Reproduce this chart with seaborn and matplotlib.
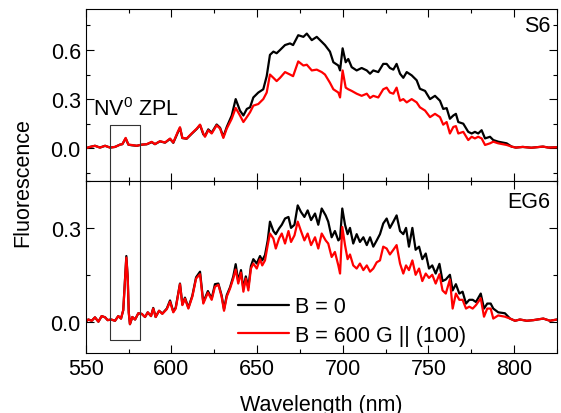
import numpy as np
import pandas as pd
import matplotlib
matplotlib.use("Agg")
import matplotlib.pyplot as plt
import seaborn as sns
from matplotlib.ticker import MultipleLocator, AutoMinorLocator

# S6 spectra (top panel)
wl_s6 = [550.0, 552.5, 555.4, 558.3, 561.3, 564.2, 567.1, 570.0, 571.4, 573.3,
         574.9, 576.8, 579.8, 582.7, 585.6, 588.5, 590.4, 593.3, 596.3, 599.2,
         601.1, 603.7, 605.0, 606.4, 608.9, 611.8, 614.8, 616.7, 618.6, 619.6,
         621.5, 623.5, 626.4, 628.4, 630.3, 632.3, 635.2, 637.5, 640.0, 642.0,
         644.0, 645.9, 647.8, 650.7, 653.6, 655.6, 657.5, 659.5, 661.4, 663.4,
         666.3, 669.2, 671.0, 674.0, 677.0, 679.0, 681.9, 684.8, 687.7, 689.6,
         692.5, 694.5, 697.4, 698.4, 699.9, 701.7, 703.2, 705.2, 708.1, 711.0,
         714.0, 715.9, 717.8, 720.7, 723.6, 725.6, 727.5, 729.5, 731.4, 733.4,
         735.3, 737.3, 740.2, 743.1, 745.0, 748.0, 750.9, 753.8, 756.7, 758.6,
         760.6, 762.5, 764.5, 766.0, 767.4, 770.3, 773.2, 775.2, 777.1, 779.0,
         781.0, 783.0, 785.9, 787.8, 790.7, 795.6, 798.5, 801.0, 805.0, 810.0,
         816.8, 820.0, 825.0]
s6_b0 = [0.000, 0.008, 0.015, 0.004, 0.015, 0.004, 0.008, 0.022, 0.025, 0.060,
         0.022, 0.018, 0.015, 0.022, 0.024, 0.037, 0.025, 0.042, 0.034, 0.057,
         0.033, 0.095, 0.125, 0.062, 0.058, 0.088, 0.118, 0.142, 0.085, 0.075,
         0.115, 0.095, 0.145, 0.125, 0.070, 0.130, 0.200, 0.300, 0.230, 0.200,
         0.240, 0.250, 0.310, 0.340, 0.360, 0.440, 0.570, 0.590, 0.580, 0.600,
         0.630, 0.640, 0.630, 0.690, 0.680, 0.700, 0.660, 0.680, 0.650, 0.630,
         0.590, 0.525, 0.505, 0.475, 0.610, 0.525, 0.545, 0.495, 0.475, 0.490,
         0.475, 0.455, 0.475, 0.465, 0.515, 0.515, 0.490, 0.480, 0.515, 0.455,
         0.430, 0.465, 0.445, 0.415, 0.363, 0.350, 0.300, 0.320, 0.290, 0.240,
         0.245, 0.180, 0.200, 0.210, 0.160, 0.150, 0.100, 0.090, 0.100, 0.090,
         0.110, 0.060, 0.070, 0.050, 0.040, 0.030, 0.010, 0.004, 0.008, 0.003,
         0.010, 0.004, 0.006]
s6_b600 = [0.000, 0.008, 0.015, 0.004, 0.015, 0.004, 0.008, 0.022, 0.025, 0.063,
           0.022, 0.020, 0.015, 0.022, 0.025, 0.039, 0.025, 0.043, 0.035, 0.059,
           0.035, 0.100, 0.128, 0.063, 0.059, 0.090, 0.120, 0.144, 0.090, 0.070,
           0.110, 0.090, 0.140, 0.120, 0.063, 0.120, 0.180, 0.246, 0.200, 0.160,
           0.190, 0.220, 0.260, 0.270, 0.300, 0.340, 0.450, 0.430, 0.410, 0.430,
           0.465, 0.450, 0.440, 0.530, 0.505, 0.510, 0.475, 0.480, 0.465, 0.450,
           0.400, 0.360, 0.340, 0.310, 0.475, 0.370, 0.360, 0.350, 0.333, 0.320,
           0.333, 0.307, 0.320, 0.310, 0.360, 0.370, 0.340, 0.333, 0.370, 0.290,
           0.300, 0.280, 0.300, 0.280, 0.250, 0.230, 0.190, 0.210, 0.190, 0.144,
           0.160, 0.090, 0.130, 0.135, 0.090, 0.100, 0.050, 0.070, 0.060, 0.070,
           0.060, 0.020, 0.030, 0.040, 0.030, 0.020, 0.010, 0.004, 0.008, 0.003,
           0.010, 0.004, 0.006]

# EG6 spectra (bottom panel)
wl_eg6 = [550.0, 551.5, 553.5, 555.4, 557.4, 559.3, 561.3, 562.8, 564.8, 567.1,
          569.0, 570.6, 571.9, 572.9, 573.7, 574.5, 575.1, 575.8, 577.2, 578.8,
          580.7, 582.7, 584.6, 586.2, 588.1, 589.4, 590.8, 592.8, 594.7, 597.3,
          599.2, 601.1, 602.5, 605.0, 606.4, 607.9, 609.9, 612.2, 614.4, 616.7,
          618.6, 621.3, 623.5, 625.4, 627.4, 629.3, 630.7, 632.3, 634.2, 636.1,
          637.5, 639.0, 640.6, 642.0, 643.4, 644.9, 646.4, 647.8, 649.8, 651.7,
          653.0, 654.6, 656.2, 657.5, 659.5, 660.9, 662.8, 664.4, 666.3, 668.3,
          669.8, 671.8, 673.7, 675.6, 677.6, 679.5, 681.5, 683.8, 685.7, 687.7,
          690.0, 691.5, 693.5, 695.4, 697.4, 698.4, 699.7, 701.3, 702.8, 704.2,
          706.1, 708.1, 710.0, 712.0, 714.0, 715.9, 717.8, 719.8, 721.7, 723.6,
          725.6, 727.5, 729.5, 731.4, 733.4, 735.3, 736.9, 738.6, 740.6, 742.5,
          744.5, 746.4, 748.4, 750.3, 752.2, 754.2, 756.4, 758.2, 760.1, 762.5,
          764.1, 766.0, 768.0, 769.9, 771.9, 773.8, 775.8, 777.7, 780.5, 782.4,
          784.3, 786.3, 787.8, 790.7, 794.6, 797.6, 800.5, 803.4, 807.3, 811.2,
          817.0, 820.9, 825.0]
eg6_b0 = [0.000, 0.007, 0.003, 0.014, 0.000, 0.018, 0.014, 0.005, 0.007, 0.003,
          0.018, 0.010, 0.037, 0.135, 0.210, 0.142, 0.030, -0.008, 0.015, 0.007,
          0.027, 0.025, 0.015, 0.030, 0.018, 0.044, 0.015, 0.035, 0.026, 0.042,
          0.068, 0.032, 0.045, 0.122, 0.055, 0.077, 0.045, 0.083, 0.142, 0.160,
          0.062, 0.098, 0.074, 0.120, 0.122, 0.084, 0.040, 0.085, 0.110, 0.145,
          0.184, 0.130, 0.165, 0.105, 0.145, 0.110, 0.178, 0.200, 0.186, 0.210,
          0.196, 0.213, 0.260, 0.320, 0.290, 0.280, 0.298, 0.310, 0.330, 0.335,
          0.300, 0.310, 0.372, 0.351, 0.335, 0.356, 0.325, 0.346, 0.310, 0.362,
          0.340, 0.320, 0.270, 0.290, 0.260, 0.266, 0.362, 0.310, 0.280, 0.300,
          0.250, 0.280, 0.255, 0.270, 0.245, 0.270, 0.240, 0.260, 0.280, 0.314,
          0.330, 0.300, 0.320, 0.340, 0.290, 0.280, 0.300, 0.240, 0.300, 0.230,
          0.240, 0.200, 0.218, 0.170, 0.180, 0.154, 0.185, 0.130, 0.135, 0.150,
          0.100, 0.120, 0.090, 0.096, 0.058, 0.070, 0.070, 0.063, 0.090, 0.042,
          0.058, 0.058, 0.042, 0.030, 0.027, 0.010, 0.003, 0.007, 0.003, 0.005,
          0.010, 0.003, 0.007]
eg6_b600 = [0.000, 0.007, 0.003, 0.014, 0.000, 0.018, 0.014, 0.005, 0.007, 0.003,
            0.018, 0.010, 0.037, 0.133, 0.205, 0.140, 0.030, -0.008, 0.015, 0.007,
            0.027, 0.025, 0.015, 0.030, 0.018, 0.042, 0.015, 0.035, 0.025, 0.040,
            0.064, 0.030, 0.042, 0.120, 0.053, 0.074, 0.042, 0.080, 0.138, 0.152,
            0.058, 0.093, 0.070, 0.112, 0.118, 0.080, 0.035, 0.080, 0.106, 0.138,
            0.167, 0.122, 0.157, 0.096, 0.138, 0.100, 0.170, 0.186, 0.170, 0.200,
            0.180, 0.196, 0.245, 0.282, 0.266, 0.234, 0.266, 0.282, 0.250, 0.290,
            0.255, 0.276, 0.320, 0.290, 0.260, 0.282, 0.245, 0.270, 0.234, 0.282,
            0.260, 0.250, 0.207, 0.223, 0.180, 0.154, 0.303, 0.245, 0.200, 0.215,
            0.180, 0.170, 0.186, 0.165, 0.180, 0.160, 0.170, 0.190, 0.196, 0.240,
            0.234, 0.215, 0.230, 0.245, 0.186, 0.154, 0.180, 0.165, 0.196, 0.150,
            0.170, 0.130, 0.154, 0.140, 0.150, 0.122, 0.152, 0.100, 0.090, 0.135,
            0.042, 0.090, 0.070, 0.070, 0.042, 0.048, 0.042, 0.053, 0.075, 0.016,
            0.042, 0.042, 0.010, 0.020, 0.016, 0.010, 0.003, 0.007, 0.003, 0.005,
            0.010, 0.003, 0.007]

labels = ["B = 0", "B = 600 G || (100)"]
colors = ["black", "#ff0000"]
zpl_box = [564.0, 581.5]

sns.set_style("ticks")
plt.rcParams["font.family"] = ["Liberation Sans", "DejaVu Sans"]
plt.rcParams["mathtext.fontset"] = "custom"
plt.rcParams["mathtext.rm"] = "Liberation Sans"
plt.rcParams["mathtext.default"] = "regular"
plt.rcParams["text.color"] = "black"
plt.rcParams["axes.labelcolor"] = "black"
fs = 15.5

fig = plt.figure(figsize=(5.61, 4.14), dpi=100)
ax1 = fig.add_axes([0.1528, 0.5604, 0.8401, 0.4154])
ax2 = fig.add_axes([0.1528, 0.145, 0.8401, 0.4154], sharex=ax1)

df_s6 = pd.DataFrame({"wl": wl_s6, labels[0]: s6_b0, labels[1]: s6_b600})
df_eg6 = pd.DataFrame({"wl": wl_eg6, labels[0]: eg6_b0, labels[1]: eg6_b600})

for ax, df in [(ax1, df_s6), (ax2, df_eg6)]:
    for lab, c in zip(labels, colors):
        sns.lineplot(data=df, x="wl", y=lab, ax=ax, color=c, lw=1.6, label=lab)
    ax.set_xlabel("")
    ax.set_ylabel("")
    ax.set_xlim(550, 825)
    ax.xaxis.set_major_locator(MultipleLocator(50))
    ax.xaxis.set_minor_locator(AutoMinorLocator(2))
    ax.yaxis.set_major_locator(MultipleLocator(0.3))
    ax.yaxis.set_minor_locator(AutoMinorLocator(2))
    ax.tick_params(which="both", direction="in", top=True, right=True,
                   labelsize=fs, width=0.8, colors="black")
    ax.tick_params(which="major", length=5.5)
    ax.tick_params(which="minor", length=3)
    for s in ax.spines.values():
        s.set_linewidth(0.8)
        s.set_color("black")
    if ax.get_legend():
        ax.get_legend().remove()

ax1.set_ylim(-0.2, 0.85)
ax2.set_ylim(-0.1, 0.45)
ax1.tick_params(labelbottom=False)

# NV0 ZPL box spanning both panels
ax1.plot([zpl_box[0], zpl_box[0], zpl_box[1], zpl_box[1]], [-0.2, 0.14, 0.14, -0.2],
         color="0.2", lw=0.8, clip_on=False)
ax2.plot([zpl_box[0], zpl_box[0], zpl_box[1], zpl_box[1]], [0.45, -0.06, -0.06, 0.45],
         color="0.2", lw=0.8, clip_on=False)
ax1.text(554.3, 0.2, "NV$^0$ ZPL", fontsize=fs, ha="left", va="baseline")

ax1.text(0.985, 0.965, "S6", transform=ax1.transAxes, fontsize=fs, ha="right", va="top")
ax2.text(0.985, 0.94, "EG6", transform=ax2.transAxes, fontsize=fs, ha="right", va="top")

h, l = ax2.get_legend_handles_labels()
ax2.legend(h, l, loc="center left", bbox_to_anchor=(0.3225, 0.186), frameon=False,
           borderaxespad=0, borderpad=0, handlelength=2.4, handletextpad=0.25,
           labelspacing=0.35, fontsize=fs)

ax2.set_xlabel("Wavelength (nm)", fontsize=fs, labelpad=11)
fig.text(0.04, 0.56, "Fluorescence", rotation=90, fontsize=fs, ha="center", va="center")

fig.savefig("out.png", dpi=100)
